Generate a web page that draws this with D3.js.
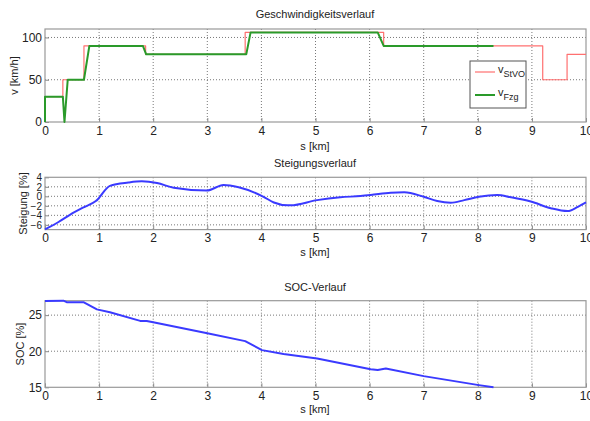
<!DOCTYPE html>
<html><head><meta charset="utf-8">
<script src="https://cdn.jsdelivr.net/npm/d3@7"></script>
<style>body{margin:0;background:#fff;} text{font-family:"Liberation Sans",Arial,sans-serif;fill:#222;}</style>
</head><body>
<svg id="c" width="590" height="421"></svg>
<script>
// ---- data ----
const kmTicks = [0,1,2,3,4,5,6,7,8,9,10];
const vStVO_s = [0,0.33,0.33,0.72,0.72,1.86,1.86,3.70,3.70,6.26,6.26,9.20,9.20,9.65,9.65,10];
const vStVO_v = [30,30,50,50,90,90,80,80,106,106,90,90,50,50,80,80];
const vFzg_s = [0,0,0.33,0.36,0.42,0.72,0.82,1.81,1.87,3.72,3.80,6.15,6.26,8.29];
const vFzg_v = [0,30,30,0,50,50,90,90,80,80,106,106,90,90];
const vTicks = [0,50,100];
const st_s = [0,0.25,0.46,0.70,0.94,1.2,1.54,1.79,2.07,2.38,2.99,3.30,3.58,4.04,4.23,4.49,4.54,5.03,5.46,5.83,6.02,6.39,6.64,7.0,7.25,7.5,7.75,8.02,8.36,8.61,8.98,9.35,9.66,9.85,10];
const st_v = [-6.95,-5.4,-3.9,-2.4,-1.0,2.2,2.9,3.15,2.8,1.8,1.2,2.4,1.9,-0.1,-1.3,-1.9,-1.9,-0.8,-0.2,0.06,0.27,0.76,0.84,-0.1,-1.0,-1.35,-0.8,-0.1,0.27,-0.2,-1.1,-2.5,-3.1,-2.2,-1.3];
const stTicks = [-6,-4,-2,0,2,4];
const soc_s = [0,0.34,0.40,0.71,0.96,1.2,1.76,1.88,2.0,3.0,3.7,4.01,4.41,4.72,5.03,6.02,6.15,6.3,7.0,8.02,8.29];
const soc_v = [26.96,27.0,26.8,26.8,25.8,25.4,24.2,24.2,24.0,22.5,21.4,20.15,19.6,19.3,19.0,17.5,17.4,17.6,16.55,15.3,15.0];
const socTicks = [15,20,25];

const svg = d3.select("#c");
const x = d3.scaleLinear().domain([0,10]).range([45,586]);

function panel(o){
  const y = d3.scaleLinear().domain(o.ydom).range([o.bottom,o.top]);
  const g = svg.append("g");
  // grid
  g.selectAll(".gx").data(kmTicks.filter(t=>t>0&&t<10)).join("line")
    .attr("x1",d=>x(d)).attr("x2",d=>x(d)).attr("y1",o.top).attr("y2",o.bottom)
    .attr("stroke","#555").attr("stroke-width",0.8).attr("stroke-dasharray","1,2");
  g.selectAll(".gy").data(o.yticks.filter(t=>t>o.ydom[0]&&t<o.ydom[1])).join("line")
    .attr("x1",x(0)).attr("x2",x(10)).attr("y1",d=>y(d)).attr("y2",d=>y(d))
    .attr("stroke","#555").attr("stroke-width",0.8).attr("stroke-dasharray","1,2");
  // axes
  const ax = g.append("g").attr("transform",`translate(0,${o.bottom})`)
    .call(d3.axisBottom(x).tickValues(kmTicks).tickSize(-4).tickPadding(4).tickFormat(d3.format("d")));
  const ay = g.append("g").attr("transform",`translate(${x(0)},0)`)
    .call(d3.axisLeft(y).tickValues(o.yticks).tickSize(-4).tickPadding(3).tickFormat(d3.format("d")));
  [ax,ay].forEach(a=>{a.select(".domain").remove();a.selectAll("line").attr("stroke","#888");
    a.selectAll("text").attr("font-size",12).attr("font-family","Liberation Sans, Arial, sans-serif").attr("fill","#222");});
  if (o.yfs) ay.selectAll("text").attr("font-size",o.yfs);
  // box
  g.append("rect").attr("x",x(0)).attr("y",o.top).attr("width",x(10)-x(0)).attr("height",o.bottom-o.top)
    .attr("fill","none").attr("stroke","#999").attr("stroke-width",1.2);
  // series
  o.series.forEach(s=>{
    const pts = s.xs.map((d,i)=>[d,s.ys[i]]);
    g.append("path").datum(pts).attr("fill","none").attr("stroke",s.color).attr("stroke-width",s.w)
      .attr("stroke-linejoin","round")
      .attr("d",d3.line().curve(s.curve||d3.curveLinear).x(d=>x(d[0])).y(d=>y(d[1])));
  });
  // labels
  svg.append("text").attr("x",315).attr("y",o.titleY).attr("text-anchor","middle").attr("font-size",11).text(o.title);
  svg.append("text").attr("x",315).attr("y",o.xlabY).attr("text-anchor","middle").attr("font-size",11).text("s [km]");
  svg.append("text").attr("transform",`translate(${o.ylabX},${(o.top+o.bottom)/2}) rotate(-90)`)
    .attr("text-anchor","middle").attr("font-size",11).text(o.ylab);
  return y;
}

panel({top:29,bottom:122,ydom:[0,110],yticks:vTicks,title:"Geschwindigkeitsverlauf",titleY:18,xlabY:150,ylab:"v [km/h]",ylabX:18,
  series:[{xs:vStVO_s,ys:vStVO_v,color:"#ff7070",w:1.2},{xs:vFzg_s,ys:vFzg_v,color:"#2a9a2a",w:2}]});
panel({top:177.3,bottom:229.6,ydom:[-7,4],yticks:stTicks,yfs:10,title:"Steigungsverlauf",titleY:167,xlabY:256,ylab:"Steigung [%]",ylabX:27,
  series:[{xs:st_s,ys:st_v,color:"#3a3aff",w:2,curve:d3.curveMonotoneX}]});
panel({top:300.7,bottom:387.3,ydom:[15,27],yticks:socTicks,title:"SOC-Verlauf",titleY:291,xlabY:413,ylab:"SOC [%]",ylabX:24,
  series:[{xs:soc_s,ys:soc_v,color:"#3a3aff",w:2}]});

// legend
const lg = svg.append("g");
lg.append("rect").attr("x",470).attr("y",61).attr("width",56).attr("height",47).attr("fill","#fff").attr("stroke","#555").attr("stroke-width",1);
[{c:"#ff7070",w:1.2,sub:"StVO",yy:72},{c:"#2a9a2a",w:2,sub:"Fzg",yy:95}].forEach(e=>{
  lg.append("line").attr("x1",475).attr("x2",495).attr("y1",e.yy).attr("y2",e.yy).attr("stroke",e.c).attr("stroke-width",e.w);
  const t = lg.append("text").attr("x",498).attr("y",e.yy+1).attr("font-size",11);
  t.append("tspan").text("v");
  t.append("tspan").attr("font-size",9).attr("dy",4).text(e.sub);
});
</script>
</body></html>
